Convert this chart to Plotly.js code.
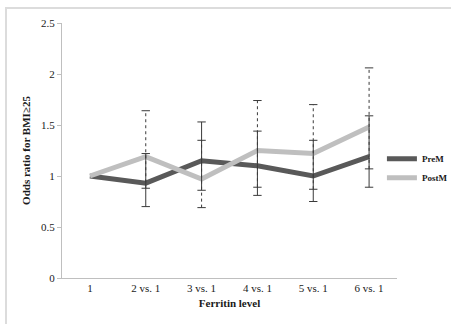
<!DOCTYPE html>
<html>
<head>
<meta charset="utf-8">
<script src="https://cdn.plot.ly/plotly-3.0.1.min.js"></script>
<style>
  html, body { margin: 0; padding: 0; background: #ffffff; overflow: hidden; }
  #frame { position: absolute; left: 5px; top: 7px; width: 600px; height: 500px;
           border-left: 2px solid #dcdcdc; border-top: 2px solid #dcdcdc; }
  #chart { position: absolute; left: 0; top: 0; width: 451px; height: 324px; }
</style>
</head>
<body>
<div id="frame"></div>
<div id="chart"></div>
<script>
const categories = ['1', '2 vs. 1', '3 vs. 1', '4 vs. 1', '5 vs. 1', '6 vs. 1'];

const preM     = [1.00, 0.93, 1.15, 1.10, 1.00, 1.19];
const preMLow  = [null, 0.70, 0.86, 0.81, 0.75, 0.89];
const preMHigh = [null, 1.22, 1.53, 1.44, 1.35, 1.59];

const postM     = [1.00, 1.19, 0.97, 1.25, 1.22, 1.48];
const postMLow  = [null, 0.88, 0.69, 0.89, 0.87, 1.07];
const postMHigh = [null, 1.64, 1.35, 1.74, 1.70, 2.06];

const yTickVals = [0, 0.5, 1, 1.5, 2, 2.5];
const yTickText = ['0', '0.5', '1', '1.5', '2', '2.5'];

function segments(lo, hi) {
  const xs = [], ys = [];
  for (let i = 0; i < categories.length; i++) {
    if (lo[i] == null || hi[i] == null) continue;
    xs.push(categories[i], categories[i], null);
    ys.push(lo[i], hi[i], null);
  }
  return { x: xs, y: ys };
}

const preSeg = segments(preMLow, preMHigh);
const postSeg = segments(postMLow, postMHigh);

const barColor = '#3a3a3a';

const traces = [
  { type: 'scatter', mode: 'lines', name: 'PreM', x: categories, y: preM,
    line: { color: '#595959', width: 5 } },
  { type: 'scatter', mode: 'lines', name: 'PostM', x: categories, y: postM,
    line: { color: '#bfbfbf', width: 5 } },
  { type: 'scatter', mode: 'lines+markers', showlegend: false, hoverinfo: 'skip',
    x: postSeg.x, y: postSeg.y,
    line: { color: barColor, width: 1, dash: 'dot' },
    marker: { symbol: 'line-ew-open', size: 6, color: barColor, line: { color: barColor, width: 1 } } },
  { type: 'scatter', mode: 'lines+markers', showlegend: false, hoverinfo: 'skip',
    x: preSeg.x, y: preSeg.y,
    line: { color: barColor, width: 1 },
    marker: { symbol: 'line-ew-open', size: 6, color: barColor, line: { color: barColor, width: 1 } } }
];

const font = { family: '"Liberation Serif", "Times New Roman", serif', color: '#1a1a1a' };

const layout = {
  width: 451, height: 324,
  margin: { l: 62, r: 54, t: 23, b: 46, autoexpand: false },
  paper_bgcolor: 'rgba(0,0,0,0)',
  plot_bgcolor: 'rgba(0,0,0,0)',
  font: Object.assign({ size: 11 }, font),
  showlegend: true,
  legend: {
    x: 0.955, xanchor: 'left', y: 0.43, yanchor: 'middle',
    font: Object.assign({ size: 9, weight: 'bold' }, font),
    bgcolor: 'rgba(0,0,0,0)', borderwidth: 0,
    tracegroupgap: 0, itemwidth: 30
  },
  xaxis: {
    type: 'category',
    range: [-0.5, 5.5],
    showline: true, linecolor: '#bfbfbf', linewidth: 1,
    showgrid: false, zeroline: false, ticks: '',
    tickfont: Object.assign({ size: 11 }, font),
    title: { text: 'Ferritin level', standoff: 6,
             font: Object.assign({ size: 11, weight: 'bold' }, font) }
  },
  yaxis: {
    range: [0, 2.5],
    tickvals: yTickVals, ticktext: yTickText,
    showline: true, linecolor: '#bfbfbf', linewidth: 1,
    ticks: 'outside', ticklen: 4, tickcolor: '#bfbfbf',
    showgrid: false, zeroline: false,
    tickfont: Object.assign({ size: 11 }, font),
    title: { text: 'Odds ratio for BMI≥25', standoff: 8,
             font: Object.assign({ size: 11, weight: 'bold' }, font) }
  }
};

Plotly.newPlot('chart', traces, layout, { displayModeBar: false, staticPlot: true });
</script>
</body>
</html>
